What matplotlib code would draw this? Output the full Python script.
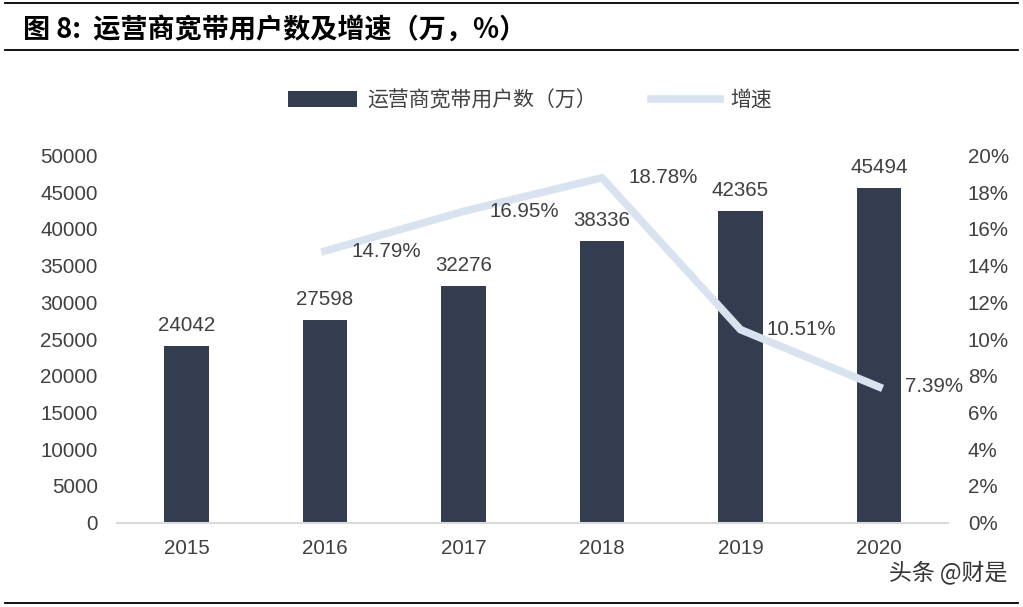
import matplotlib
matplotlib.use('Agg')
from matplotlib import pyplot as plt
from matplotlib.lines import Line2D
from matplotlib.patches import Patch

years = ['2015', '2016', '2017', '2018', '2019', '2020']
users = [24042, 27598, 32276, 38336, 42365, 45494]
growth_years = ['2016', '2017', '2018', '2019', '2020']
growth = [14.79, 16.95, 18.78, 10.51, 7.39]

bar_color = '#333d4f'
line_color = '#d9e3f0'
text_color = '#404040'
num_font = ['Liberation Sans', 'DejaVu Sans']
cjk_font = ['Noto Sans CJK SC', 'DejaVu Sans']
fs = 14.8

fig = plt.figure(figsize=(10.23, 6.07), dpi=100)

# title and the rules around it
fig.text(0.022, 0.952, '图 8:  运营商宽带用户数及增速（万，%）', family=cjk_font,
         fontsize=19.5, fontweight='bold', va='center', color='black')
fig.add_artist(Line2D([0.005, 0.995], [0.995, 0.995], color='black', lw=1.3))
fig.add_artist(Line2D([0.005, 0.995], [0.917, 0.917], color='black', lw=1.3))
fig.add_artist(Line2D([0.005, 0.995], [0.006, 0.006], color='black', lw=1.3))

ax = fig.add_axes([0.1145, 0.139, 0.8125, 0.605])
ax2 = ax.twinx()

x = list(range(len(years)))
ax.bar(x, users, width=0.32, color=bar_color, zorder=2)
for xi, v in zip(x, users):
    ax.text(xi, v + 1500, str(v), ha='center', va='bottom', fontsize=fs,
            family=num_font, color=text_color)

gx = [years.index(y) for y in growth_years]
ax2.plot(gx, growth, color=line_color, lw=5.5, solid_joinstyle='miter', zorder=3)
for xi, v in zip(gx, growth):
    ax2.text(xi + 0.19, v, f'{v:.2f}%', ha='left', va='center', fontsize=fs,
             family=num_font, color=text_color)

ax.set_xlim(-0.5, 5.5)
ax.set_ylim(0, 50000)
ax.set_yticks(range(0, 50001, 5000))
ax2.set_ylim(0, 20)
ax2.set_yticks(range(0, 21, 2))
ax2.set_yticklabels([f'{t}%' for t in range(0, 21, 2)])
ax.set_xticks(x)
ax.set_xticklabels(years)

ax.set_zorder(ax2.get_zorder() - 1)
ax.patch.set_visible(True)
ax2.patch.set_visible(False)

for a in (ax, ax2):
    for s in a.spines.values():
        s.set_visible(False)
    a.tick_params(length=0, labelsize=fs, labelcolor=text_color)
    for lab in a.get_xticklabels() + a.get_yticklabels():
        lab.set_family(num_font)
ax.spines['bottom'].set_visible(True)
ax.spines['bottom'].set_color('#d9d9d9')
ax.spines['bottom'].set_linewidth(1.5)
ax.tick_params(axis='x', pad=12)
ax.tick_params(axis='y', pad=14)
ax2.tick_params(axis='y', pad=14)

handles = [Patch(facecolor=bar_color), Line2D([0], [0], color=line_color, lw=5.5)]
fig.legend(handles, ['运营商宽带用户数（万）', '增速'], loc='center', ncol=2,
           bbox_to_anchor=(0.518, 0.835), frameon=False, handlelength=3.3,
           handleheight=0.8, handletextpad=0.5, columnspacing=2.6,
           prop={'family': cjk_font, 'size': 15}, labelcolor=text_color)

fig.text(0.985, 0.058, '头条 @财是', family=cjk_font, fontsize=16.5, ha='right',
         va='center', color='#333333')

fig.savefig('out.png', dpi=100)
